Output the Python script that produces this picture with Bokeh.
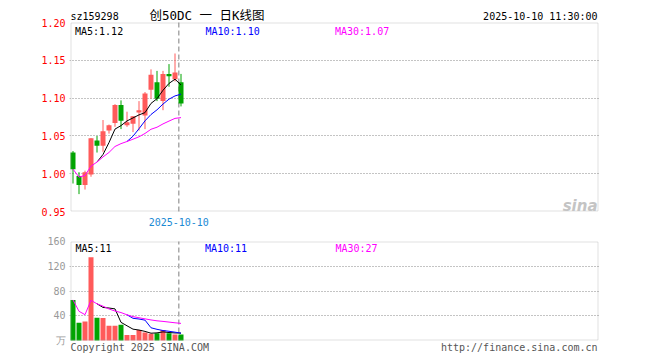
import numpy as np
import pandas as pd
from bokeh.plotting import figure
from bokeh.models import (ColumnDataSource, Range1d, FixedTicker, PrintfTickFormatter,
                          Label, BoxAnnotation)
from bokeh.layouts import column
from bokeh.embed import file_html
from bokeh.resources import INLINE

# ---------------- data ----------------
symbol = "sz159298"
chart_title = "创50DC 一 日K线图"
timestamp = "2025-10-10 11:30:00"
last_date = "2025-10-10"

opens  = [1.028, 0.997, 0.985, 0.999, 1.044, 1.037, 1.057, 1.067, 1.091, 1.064,
          1.066, 1.081, 1.077, 1.111, 1.121, 1.096, 1.132, 1.125, 1.121]
highs  = [1.030, 1.002, 1.004, 1.047, 1.050, 1.071, 1.065, 1.092, 1.097, 1.082,
          1.076, 1.096, 1.108, 1.138, 1.136, 1.136, 1.145, 1.159, 1.132]
lows   = [0.987, 0.973, 0.979, 0.996, 1.028, 1.029, 1.053, 1.062, 1.059, 1.062,
          1.055, 1.057, 1.059, 1.099, 1.096, 1.084, 1.115, 1.122, 1.089]
closes = [1.006, 0.985, 1.002, 1.047, 1.037, 1.056, 1.064, 1.091, 1.070, 1.068,
          1.076, 1.084, 1.106, 1.131, 1.099, 1.132, 1.129, 1.134, 1.093]
volumes = [65.6, 28.8, 30.9, 134.4, 36.8, 36.3, 24.0, 24.0, 25.6, 9.0,
           9.0, 17.0, 13.0, 11.0, 11.7, 17.0, 11.7, 9.6, 9.6]

price_ticks = [0.95, 1.00, 1.05, 1.10, 1.15, 1.20]
vol_ticks = [0, 40, 80, 120, 160]
vol_unit = "万"

price_ma_texts = ["MA5:1.12", "MA10:1.10", "MA30:1.07"]
vol_ma_texts = ["MA5:11", "MA10:11", "MA30:27"]
copyright_text = "Copyright 2025 SINA.COM"
site_text = "http://finance.sina.com.cn"

# ---------------- styles ----------------
RED = "#FF5A5A"
GREEN = "#00A400"
MA_COLORS = ["#000000", "#0000FF", "#FF00FF"]
FRAME = "#999999"
MONO = "DejaVu Sans Mono"

# ---------------- derived table ----------------
n = len(closes)
df = pd.DataFrame(dict(x=list(range(n)), o=opens, h=highs, l=lows, c=closes, v=volumes))
df["top"] = df[["o", "c"]].max(axis=1)
df["bottom"] = df[["o", "c"]].min(axis=1)
df["color"] = np.where(df["c"] >= df["o"], RED, GREEN)
df["ma5"] = df["c"].rolling(5).mean()
df["ma10"] = df["c"].rolling(10).mean()
df["ma30"] = df["c"].rolling(30, min_periods=1).mean()
df["vma5"] = df["v"].rolling(5).mean()
df["vma10"] = df["v"].rolling(10).mean()
df["vma30"] = df["v"].rolling(30, min_periods=1).mean()
src = ColumnDataSource(df)

# ---------------- geometry ----------------
PX = 6.0                      # pixels per trading day
C0 = 72.5                     # pixel centre of first candle
FL, FR = 69, 599              # plotting frame (slightly wider than the drawn box)
BOX_L, BOX_R = 70.5, 597.5    # drawn chart box (pixel centres)
xr = Range1d((FL - C0) / PX, (FR - C0) / PX)
BODY_W = 5.0 / PX
last_x = (n - 1) - 0.37

# price panel: canvas rows 0..232, box from 22 to 211
P1_H, P1_BT, P1_BB = 232, 22, 211
k1 = (price_ticks[-1] - price_ticks[0]) / (P1_BB - P1_BT)
yr1 = Range1d(price_ticks[0] - (P1_H - P1_BB) * k1, price_ticks[-1] + P1_BT * k1)
# volume panel: canvas rows 232..360, box from 241 to 340
P2_H, P2_BT, P2_BB = 128, 9, 108
k2 = (vol_ticks[-1] - vol_ticks[0]) / (P2_BB - P2_BT)
yr2 = Range1d(vol_ticks[0] - (P2_H - P2_BB) * k2, vol_ticks[-1] + P2_BT * k2)


def xpx(px):
    return (px - C0) / PX


def y1px(py):
    return price_ticks[-1] - (py - P1_BT) * k1


def y2px(py):
    return vol_ticks[-1] - (py - 232 - P2_BT) * k2


def lab(p, x, y, text, color, size="10px", font=MONO, align="left", baseline="middle", style="normal"):
    p.add_layout(Label(x=x, y=y, text=text, text_color=color, text_font_size=size,
                       text_font=font, text_align=align, text_baseline=baseline,
                       text_font_style=style))


def make_fig(height, yr, ticks, label_color, k):
    p = figure(width=660, height=height, x_range=xr, y_range=yr,
               output_backend="svg", toolbar_location=None, x_axis_location=None,
               min_border_left=FL, min_border_right=660 - FR,
               min_border_top=0, min_border_bottom=0,
               background_fill_color="white", border_fill_color="white")
    p.outline_line_color = None
    p.xgrid.visible = False
    p.ygrid.ticker = FixedTicker(ticks=ticks[1:-1])
    p.ygrid.grid_line_color = "#888888"
    p.ygrid.grid_line_dash = "1 2"
    p.ygrid.grid_line_width = 1
    ax = p.yaxis[0]
    ax.ticker = FixedTicker(ticks=ticks)
    ax.axis_line_color = None
    ax.major_tick_line_color = None
    ax.minor_tick_line_color = None
    ax.major_tick_out = 0
    ax.major_tick_in = 0
    ax.major_label_standoff = 4
    ax.major_label_text_color = label_color
    ax.major_label_text_font = MONO
    ax.major_label_text_font_size = "10px"
    p.add_layout(BoxAnnotation(left=xpx(BOX_L), right=xpx(BOX_R),
                               bottom=ticks[0] + 0.5 * k, top=ticks[-1] - 0.5 * k,
                               fill_color=None, line_color=FRAME, line_width=1))
    p.segment(x0=[last_x], y0=[ticks[0]], x1=[last_x], y1=[ticks[-1]],
              line_color="#AAAAAA", line_dash="5 3", line_width=1.5)
    return p


# ---------------- price chart ----------------
p1 = make_fig(P1_H, yr1, price_ticks, "#FF0000", k1)
p1.yaxis[0].formatter = PrintfTickFormatter(format="%.2f")

p1.segment(x0="x", y0="l", x1="x", y1="h", line_color="color", line_width=1, source=src)
p1.vbar(x="x", top="top", bottom="bottom", width=BODY_W, fill_color="color",
        line_color=None, source=src)
for col, colr in zip(["ma5", "ma10", "ma30"], MA_COLORS):
    p1.line(x="x", y=col, line_color=colr, line_width=1, source=src)

lab(p1, xpx(70), y1px(16), symbol, "#000000")
lab(p1, xpx(206.5), y1px(15), chart_title, "#000000", size="12.5px",
    font="DejaVu Sans Mono, Noto Sans CJK SC", align="center")
lab(p1, xpx(597), y1px(16), timestamp, "#000000", align="right")
for t, colr, px in zip(price_ma_texts, MA_COLORS, [74.5, 205, 334.5]):
    lab(p1, xpx(px), y1px(25.5), t, colr, baseline="top")
lab(p1, last_x, y1px(221.5), last_date, "#1A8AD4", align="center")
lab(p1, xpx(597), y1px(205), "sina", "#C4C4C4", size="15px", font="DejaVu Sans",
    align="right", baseline="alphabetic", style="bold italic")

# ---------------- volume chart ----------------
p2 = make_fig(P2_H, yr2, vol_ticks, "#999999", k2)
p2.yaxis[0].major_label_overrides = {0: vol_unit}

p2.vbar(x="x", top="v", bottom=0, width=BODY_W, fill_color="color", line_color=None, source=src)
for col, colr in zip(["vma5", "vma10", "vma30"], MA_COLORS):
    p2.line(x="x", y=col, line_color=colr, line_width=1, source=src)

for t, colr, px in zip(vol_ma_texts, MA_COLORS, [75, 204.5, 335]):
    lab(p2, xpx(px), y2px(242), t, colr, baseline="top")
lab(p2, xpx(70), y2px(347), copyright_text, "#555555")
lab(p2, xpx(597), y2px(347), site_text, "#555555", align="right")

layout = column(p1, p2, spacing=0)
open("out.html", "w").write(file_html(layout, INLINE))
